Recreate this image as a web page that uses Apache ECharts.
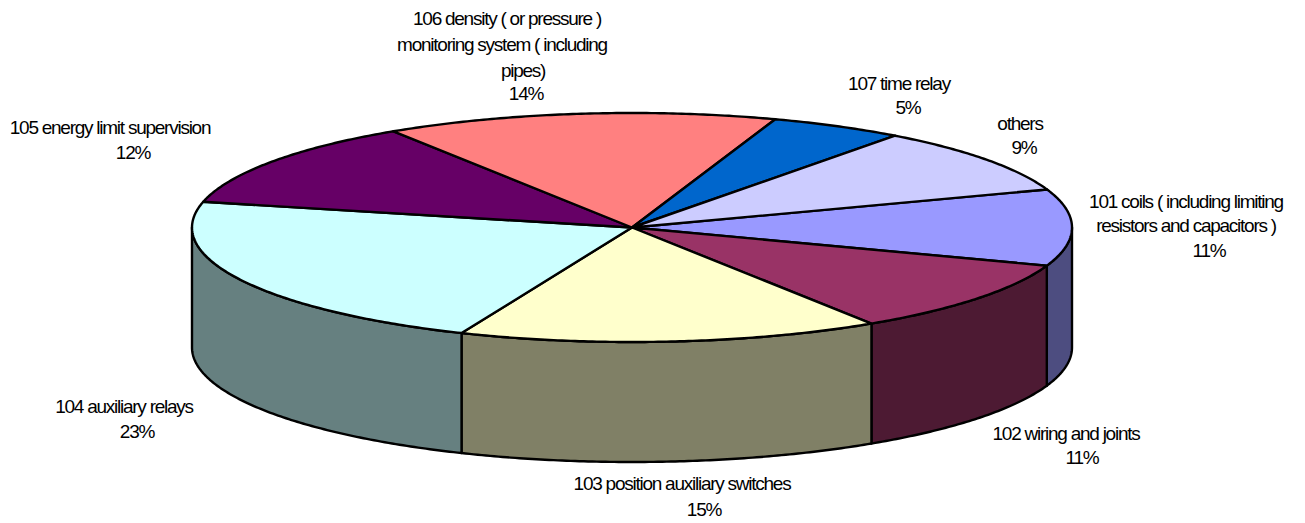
<!DOCTYPE html>
<html>
<head>
<meta charset="utf-8">
<title>pie</title>
<style>
html, body { margin: 0; padding: 0; background: #fff; }
#main { width: 1305px; height: 523px; }
#main text { letter-spacing: -1.25px; }
</style>
<script src="https://cdn.jsdelivr.net/npm/echarts@6/dist/echarts.min.js"></script>
</head>
<body>
<div id="main"></div>
<script>
// slices, clockwise from the right hand side of the disc
const names = ['101 coils', '102 wiring', '103 position', '104 auxiliary', '105 energy', '106 density', '107 time relay', 'others'];
const values = [10.8, 10.43, 15.49, 22.27, 12.28, 14.4, 4.92, 9.41];
const topColors = ['#9999FF', '#993366', '#FFFFCC', '#CCFFFF', '#660066', '#FF8080', '#0066CC', '#CCCCFF'];
const sideColors = ['#4D4D80', '#4D1A33', '#808066', '#668080', '#330033', '#804040', '#003366', '#666680'];

// label text, one entry per line
const labelLines = [
    ['101 coils ( including limiting', 'resistors and capacitors )', '11%'],
    ['102 wiring and joints', '11%'],
    ['103 position auxiliary switches', '15%'],
    ['104 auxiliary relays', '23%'],
    ['105 energy limit supervision', '12%'],
    ['106 density ( or pressure )', 'monitoring system ( including', 'pipes)', '14%'],
    ['107 time relay', '5%'],
    ['others', '9%']
];
// centre x, centre y of each label line
const labelPos = [
    [[1186, 201], [1186, 225], [1209, 250]],
    [[1066, 433], [1082, 457]],
    [[682, 483], [704, 509]],
    [[124, 406], [137, 431]],
    [[110, 127], [133, 152]],
    [[507, 18], [502, 44], [523, 70], [526, 93]],
    [[899, 83], [908, 107]],
    [[1020, 123], [1024, 147]]
];

const cx = 632, cy = 227.5, rx = 440, ry = 114.5, depth = 120;
const startAngle = -19.4 * Math.PI / 180;
const total = values.reduce((a, b) => a + b, 0);

const edge = (a, dy) => [cx + rx * Math.cos(a), cy + ry * Math.sin(a) + dy];

const arc = (from, to, dy) => {
    let pts = [];
    let n = Math.max(2, Math.ceil((to - from) / 0.01));
    for (let i = 0; i <= n; i++) {
        pts.push(edge(from + (to - from) * i / n, dy));
    }
    return pts;
};

const renderSlice = (params, api) => {
    let i = params.dataIndex;
    let before = 0;
    for (let k = 0; k < i; k++) before += values[k];
    let from = startAngle + before / total * Math.PI * 2;
    let to = from + api.value(1) / total * Math.PI * 2;

    let children = [];
    // only the part of the rim facing the viewer is visible
    let sideFrom = Math.max(from, 0);
    let sideTo = Math.min(to, Math.PI);
    if (sideTo > sideFrom) {
        let rim = arc(sideFrom, sideTo, 0).concat(arc(sideFrom, sideTo, depth).reverse());
        children.push({
            type: 'polygon',
            shape: { points: rim },
            z2: 1,
            style: { fill: sideColors[i], stroke: '#000', lineWidth: 2.4, lineJoin: 'round' }
        });
    }
    children.push({
        type: 'polygon',
        shape: { points: [[cx, cy]].concat(arc(from, to, 0)) },
        z2: 2,
        style: { fill: topColors[i], stroke: '#000', lineWidth: 2.4, lineJoin: 'round' }
    });
    labelLines[i].forEach((line, k) => {
        children.push({
            type: 'text',
            x: labelPos[i][k][0],
            y: labelPos[i][k][1],
            z2: 3,
            style: {
                text: line,
                fill: '#000',
                font: '19px "Liberation Sans", Arial, sans-serif',
                align: 'center',
                verticalAlign: 'middle'
            }
        });
    });
    return { type: 'group', children: children };
};

const chart = echarts.init(document.getElementById('main'), null, { renderer: 'svg' });
chart.setOption({
    animation: false,
    backgroundColor: '#fff',
    series: [{
        type: 'custom',
        coordinateSystem: 'none',
        renderItem: renderSlice,
        data: names.map((n, i) => ({ name: n, value: [i, values[i]] }))
    }]
});
</script>
</body>
</html>
